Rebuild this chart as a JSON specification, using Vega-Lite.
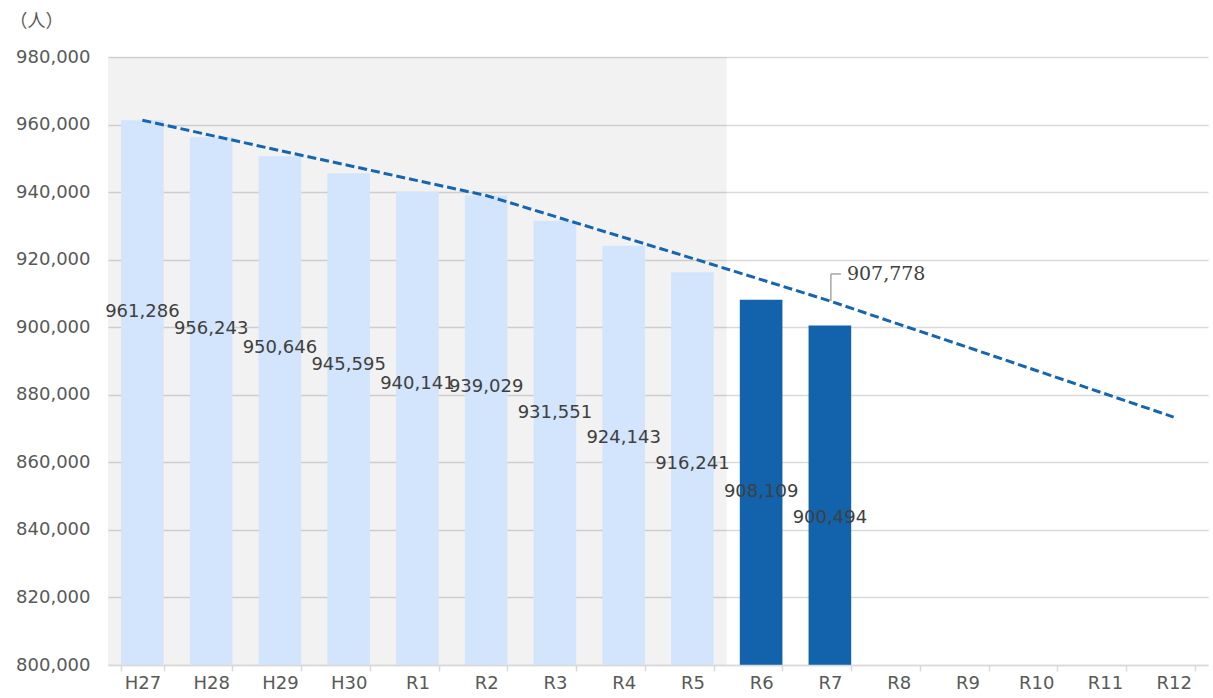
{
  "$schema": "https://vega.github.io/schema/vega-lite/v6.json",
  "width": 1100,
  "height": 608,
  "autosize": {"type": "none"},
  "padding": {"left": 108, "top": 57, "right": 5, "bottom": 33},
  "background": "white",
  "config": {"view": {"stroke": null}, "font": "DejaVu Sans"},
  "data": {
    "values": [
      {"year": "H27", "value": 961286, "period": "past", "trend": 961286},
      {"year": "H28", "value": 956243, "period": "past", "trend": 956800},
      {"year": "H29", "value": 950646, "period": "past", "trend": 952300},
      {"year": "H30", "value": 945595, "period": "past", "trend": 947900},
      {"year": "R1", "value": 940141, "period": "past", "trend": 943400},
      {"year": "R2", "value": 939029, "period": "past", "trend": 939000},
      {"year": "R3", "value": 931551, "period": "past", "trend": 932800},
      {"year": "R4", "value": 924143, "period": "past", "trend": 926600},
      {"year": "R5", "value": 916241, "period": "past", "trend": 920400},
      {"year": "R6", "value": 908109, "period": "current", "trend": 914100},
      {"year": "R7", "value": 900494, "period": "current", "trend": 907778},
      {"year": "R8", "trend": 900900},
      {"year": "R9", "trend": 894100},
      {"year": "R10", "trend": 887200},
      {"year": "R11", "trend": 880300},
      {"year": "R12", "trend": 873400}
    ]
  },
  "resolve": {"scale": {"x": "shared", "y": "shared"}},
  "layer": [
    {
      "data": {"values": [{"from": "H27", "to": "R5"}]},
      "mark": {"type": "rect", "fill": "#000000", "fillOpacity": 0.051},
      "encoding": {
        "x": {
          "field": "from",
          "type": "ordinal",
          "bandPosition": -0.3065,
          "scale": {
            "domain": ["H27", "H28", "H29", "H30", "R1", "R2", "R3", "R4", "R5", "R6", "R7", "R8", "R9", "R10", "R11", "R12"],
            "paddingInner": 0.38,
            "paddingOuter": 0.19
          },
          "axis": {
            "title": null,
            "labelFontSize": 18,
            "labelColor": "#595959",
            "labelPadding": 3,
            "labelAngle": 0,
            "tickBand": "extent",
            "tickColor": "#D9D9D9",
            "tickSize": 6,
            "tickWidth": 1.5,
            "domainColor": "#D9D9D9",
            "domainWidth": 1.5,
            "grid": false
          }
        },
        "x2": {"field": "to", "bandPosition": 1.3065},
        "y": {
          "datum": 980000,
          "type": "quantitative",
          "scale": {"domain": [800000, 980000], "nice": false, "zero": false}
        },
        "y2": {"datum": 800000}
      }
    },
    {
      "transform": [{"filter": "isValid(datum.value)"}],
      "mark": {"type": "bar"},
      "encoding": {
        "x": {"field": "year", "type": "ordinal"},
        "y": {
          "field": "value",
          "type": "quantitative",
          "axis": {
            "values": [800000, 820000, 840000, 860000, 880000, 900000, 920000, 940000, 960000, 980000],
            "format": ",d",
            "grid": true,
            "gridColor": "#D9D9D9",
            "gridWidth": 1.5,
            "domain": false,
            "ticks": false,
            "tickSize": 0,
            "labelPadding": 18,
            "labelFontSize": 18,
            "labelColor": "#595959",
            "title": "（人）",
            "titleFont": "Noto Sans CJK JP",
            "titleFontSize": 18,
            "titleFontWeight": "normal",
            "titleColor": "#595959",
            "titleAngle": 0,
            "titleAlign": "left",
            "titleBaseline": "middle",
            "titleX": -99,
            "titleY": -36
          }
        },
        "y2": {"datum": 800000},
        "color": {
          "field": "period",
          "type": "nominal",
          "scale": {"domain": ["past", "current"], "range": ["#D2E5FC", "#1262AC"]},
          "legend": null
        }
      }
    },
    {
      "transform": [{"filter": "isValid(datum.value)"}],
      "mark": {"type": "text", "fontSize": 18, "color": "#404040", "baseline": "middle", "align": "center", "yOffset": 192},
      "encoding": {
        "x": {"field": "year", "type": "ordinal"},
        "y": {"field": "value", "type": "quantitative"},
        "text": {"field": "value", "type": "quantitative", "format": ",d"}
      }
    },
    {
      "mark": {"type": "line", "color": "#1565B0", "strokeWidth": 3, "strokeDash": [9, 4]},
      "encoding": {
        "x": {"field": "year", "type": "ordinal"},
        "y": {"field": "trend", "type": "quantitative"}
      }
    },
    {
      "transform": [{"filter": "datum.year === 'R7'"}],
      "mark": {"type": "rule", "color": "#A6A6A6", "strokeWidth": 1.5, "xOffset": 1, "y2Offset": -27},
      "encoding": {
        "x": {"field": "year", "type": "ordinal"},
        "y": {"field": "trend", "type": "quantitative"},
        "y2": {"field": "trend"}
      }
    },
    {
      "transform": [{"filter": "datum.year === 'R7'"}],
      "mark": {"type": "rule", "color": "#A6A6A6", "strokeWidth": 1.5, "xOffset": 1, "x2Offset": 11, "yOffset": -27},
      "encoding": {
        "x": {"field": "year", "type": "ordinal", "bandPosition": 0.5},
        "x2": {"field": "year", "bandPosition": 0.5},
        "y": {"field": "trend", "type": "quantitative"}
      }
    },
    {
      "transform": [{"filter": "datum.year === 'R7'"}],
      "mark": {"type": "text", "font": "DejaVu Serif", "fontSize": 19, "color": "#404040", "align": "left", "baseline": "middle", "dx": 17, "dy": -27},
      "encoding": {
        "x": {"field": "year", "type": "ordinal"},
        "y": {"field": "trend", "type": "quantitative"},
        "text": {"field": "trend", "type": "quantitative", "format": ",d"}
      }
    }
  ]
}
